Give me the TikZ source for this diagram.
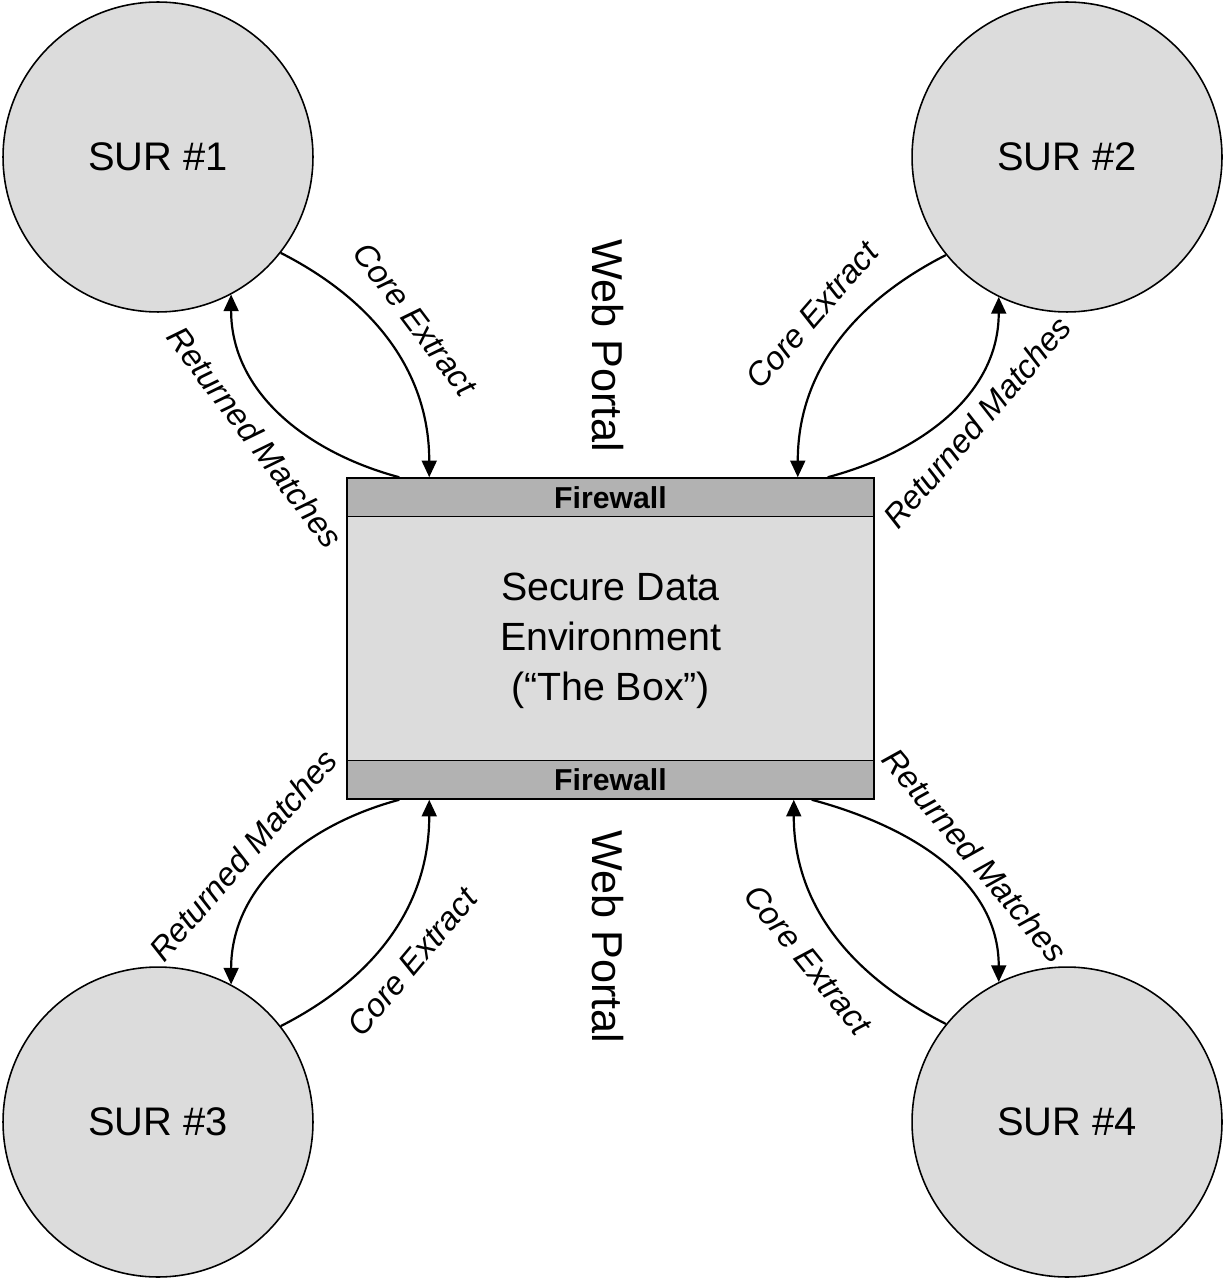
\documentclass[tikz,border=0pt]{standalone}
\usepackage{fontspec}
\setmainfont{Liberation Sans}
\usetikzlibrary{arrows.meta,positioning}
\definecolor{surgray}{HTML}{DCDCDC}
\definecolor{wallgray}{HTML}{B2B2B2}
\tikzset{
  sur/.style={circle,draw,line width=0.9pt,fill=surgray,minimum size=6.2cm,inner sep=0pt,font=\fontsize{22.7}{27}\selectfont},
  wall/.style={rectangle,draw,line width=0.9pt,fill=wallgray,minimum width=10.54cm,minimum height=0.77cm,inner sep=0pt,font=\bfseries\fontsize{17.2}{20}\selectfont},
  flow/.style={line width=1.25pt,-{Triangle[length=9.5pt,width=8.5pt]}},
  lbl/.style={font=\itshape\fontsize{18.6}{22}\selectfont},
  portal/.style={rotate=-90,font=\fontsize{24.6}{30}\selectfont}
}
\begin{document}
\begin{tikzpicture}[x=0.02cm,y=-0.02cm]
\useasboundingbox (0,0) rectangle (1225,1283);
    % the four SURs
    \node[sur] (sur1) at (158,157) {SUR \#1};
    \node[sur] (sur2) at (1067,157) {SUR \#2};
    \node[sur] (sur3) at (158,1122) {SUR \#3};
    \node[sur] (sur4) at (1067,1122) {SUR \#4};
    % the box
    \node[draw,line width=0.9pt,fill=surgray,minimum width=10.54cm,minimum height=6.42cm] (box) at (610.5,638.5) {};
    \node[wall,anchor=north] (wallN) at (box.north) {Firewall};
    \node[wall,anchor=south] (wallS) at (box.south) {Firewall};
    \node[align=center,font=\fontsize{22.4}{28.4}\selectfont] (sde) at ([yshift=-0.05cm]box.center) {Secure Data\\Environment\\(“The Box”)};
    \node[portal] (portalN) at (608,346) {Web Portal};
    \node[portal] (portalS) at (608,937) {Web Portal};
    % ends on the firewalls
    \coordinate (ceA) at ([xshift=1.66cm]wallN.north west);
    \coordinate (rmA) at ([xshift=1.06cm]wallN.north west);
    \coordinate (ceB) at ([xshift=-1.54cm]wallN.north east);
    \coordinate (rmB) at ([xshift=-0.94cm]wallN.north east);
    \coordinate (ceC) at ([xshift=1.66cm]wallS.south west);
    \coordinate (rmC) at ([xshift=1.06cm]wallS.south west);
    \coordinate (ceD) at ([xshift=-1.62cm]wallS.south east);
    \coordinate (rmD) at ([xshift=-1.26cm]wallS.south east);
    % flows
    \draw[flow] (sur1.-38.5) to[out=-27,in=90] (ceA);
    \draw[flow] (rmA) to[out=165,in=-90] (sur1.-62.8);
    \draw[flow] (sur2.-141.7) to[out=-153,in=90] (ceB);
    \draw[flow] (rmB) to[out=15,in=-90] (sur2.-116.6);
    \draw[flow] (sur3.38.5) to[out=27,in=-90] (ceC);
    \draw[flow] (rmC) to[out=-165,in=90] (sur3.62.6);
    \draw[flow] (sur4.141.5) to[out=153,in=-90] (ceD);
    \draw[flow] (rmD) to[out=-15,in=90] (sur4.116.6);
    % labels
    \node[lbl,rotate=-53] (ce1) at (415,319) {Core Extract};
    \node[lbl,rotate=-53] (rm1) at (255,437) {Returned Matches};
    \node[lbl,rotate=49] (ce2) at (812,315) {Core Extract};
    \node[lbl,rotate=49] (rm2) at (977,422) {Returned Matches};
    \node[lbl,rotate=49] (rm3) at (243,855) {Returned Matches};
    \node[lbl,rotate=50] (ce3) at (412,962) {Core Extract};
    \node[lbl,rotate=-50] (rm4) at (975,855) {Returned Matches};
    \node[lbl,rotate=-51] (ce4) at (808,960) {Core Extract};
\end{tikzpicture}
\end{document}
